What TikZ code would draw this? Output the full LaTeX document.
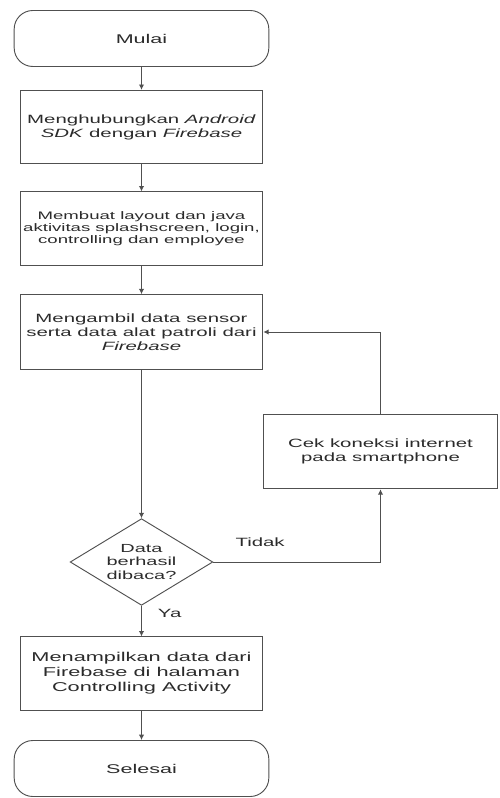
\documentclass[tikz,border=0pt]{standalone}
\usepackage{fontspec}
\setmainfont{Liberation Sans}[FakeStretch=1.7]
\usetikzlibrary{arrows.meta,shapes.geometric}
\definecolor{ink}{HTML}{2B2B2B}
\definecolor{edge}{HTML}{505050}

\begin{document}
\begin{tikzpicture}[
  x=0.75pt,y=-0.75pt,
  font=\fontsize{9}{10.5}\selectfont,
  >={Latex[length=4pt,width=4pt]},
  arrow/.style={->,line width=0.7pt,draw=edge},
  terminal/.style={draw=edge,line width=0.7pt,rounded corners=14pt,
                   minimum width=191pt,minimum height=42pt,text=ink},
  process/.style={draw=edge,line width=0.7pt,minimum width=182pt,
                  minimum height=55pt,align=center,text=ink,inner sep=2pt},
  decision/.style={diamond,draw=edge,line width=0.7pt,aspect=1.64,inner sep=0pt,
                   minimum width=107pt,minimum height=65pt,align=center,text=ink},
  tag/.style={text=ink,inner sep=1pt}
]
\useasboundingbox (0,0) rectangle (499,798);

% Main column
\node[terminal] (start) at (141.5,38.5) {\fontsize{9.5}{11}\selectfont Mulai};
\node[process] (link) at (141.5,127)
  {Menghubungkan \textit{Android}\\ \textit{SDK} dengan \textit{Firebase}};
\node[process,font=\fontsize{8.2}{9.2}\selectfont] (layout) at (141.5,228.5)
  {Membuat layout dan java\\ aktivitas splashscreen, login,\\ controlling dan employee};
\node[process,minimum height=56pt] (fetch) at (141.5,332)
  {Mengambil data sensor\\ serta data alat patroli dari\\ \textit{Firebase}};
\node[decision,font=\fontsize{8.8}{10.2}\selectfont] (read) at (141.5,562)
  {Data\\ berhasil\\ dibaca?};
\node[process,font=\fontsize{9.6}{11.2}\selectfont] (show) at (141.5,673.5)
  {Menampilkan data dari\\ Firebase di halaman\\ Controlling Activity};
\node[terminal] (stop) at (141.5,768.5) {\fontsize{9.5}{11}\selectfont Selesai};

% Retry branch
\node[process,minimum width=176pt,minimum height=56pt] (net) at (380.5,451.5)
  {Cek koneksi internet\\ pada smartphone};

% Arrows
\draw[arrow] (start) -- (link);
\draw[arrow] (link) -- (layout);
\draw[arrow] (layout) -- (fetch);
\draw[arrow] (fetch) -- (read);
\draw[arrow] (read) -- node[tag,pos=0.25,anchor=west,xshift=11pt]{Ya} (show);
\draw[arrow] (show) -- (stop);
\draw[arrow] (read.east) -| node[tag,pos=0.14,above=10pt]{Tidak} (net.south);
\draw[arrow] (net.north) |- (fetch.east);

\end{tikzpicture}
\end{document}
